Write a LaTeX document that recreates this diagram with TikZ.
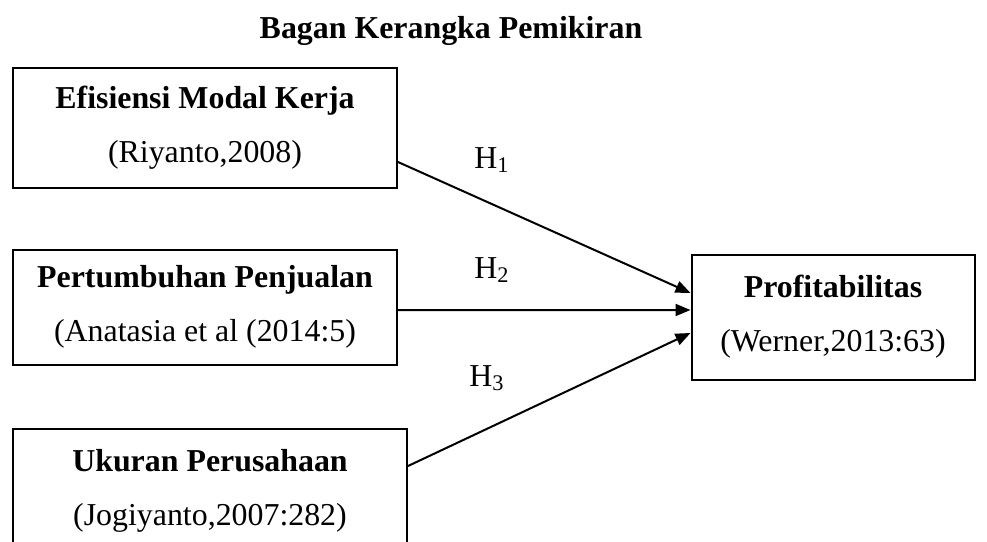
\documentclass[tikz,border=0pt]{standalone}
\usepackage{fontspec}
\setmainfont{Liberation Serif}
\usetikzlibrary{arrows.meta, positioning}
\tikzset{
		>={Triangle[length=6pt, width=4.8pt]},
		varbox/.style={draw, line width=0.8pt, align=center, font=\fontsize{12.75}{15}\selectfont},
		hyp/.style={->, line width=0.8pt},
		hlabel/.style={font=\fontsize{12.75}{15}\selectfont}
	}

\begin{document}
\begin{tikzpicture}[x=0.4pt, y=-0.4pt]
		\useasboundingbox (0,0) rectangle (987,541);
		\clip (0,0) rectangle (987,541);
		\node[font=\fontsize{12.75}{15}\selectfont\bfseries] (title) at (451,31) {Bagan Kerangka Pemikiran};
		% variabel bebas
		\node[varbox, minimum width=153.6pt, minimum height=48pt] (emk) at (205,128) {\textbf{Efisiensi Modal Kerja}\\[6.5pt] (Riyanto,2008)};
		\node[varbox, minimum width=153.6pt, minimum height=46pt] (pp) at (205,307) {\textbf{Pertumbuhan Penjualan}\\[6.5pt] (Anatasia et al (2014:5)};
		\node[varbox, minimum width=157.6pt, minimum height=50pt] (up) at (210,491) {\textbf{Ukuran Perusahaan}\\[6.5pt] (Jogiyanto,2007:282)};
		% variabel terikat
		\node[varbox, minimum width=113.2pt, minimum height=50pt] (prof) at (833,317) {\textbf{Profitabilitas}\\[6.5pt] (Werner,2013:63)};
		\draw[hyp] ([yshift=-13.6pt]emk.east) -- ([yshift=9.6pt]prof.west);
		\draw[hyp] ([yshift=-1.2pt]pp.east) -- ([yshift=2.8pt]prof.west);
		\draw[hyp] ([yshift=10pt]up.east) -- ([yshift=-6.4pt]prof.west);
		\node[hlabel] (h1) at (492,160) {H\textsubscript{1}};
		\node[hlabel] (h2) at (492,270) {H\textsubscript{2}};
		\node[hlabel] (h3) at (487,378) {H\textsubscript{3}};
	\end{tikzpicture}
\end{document}
